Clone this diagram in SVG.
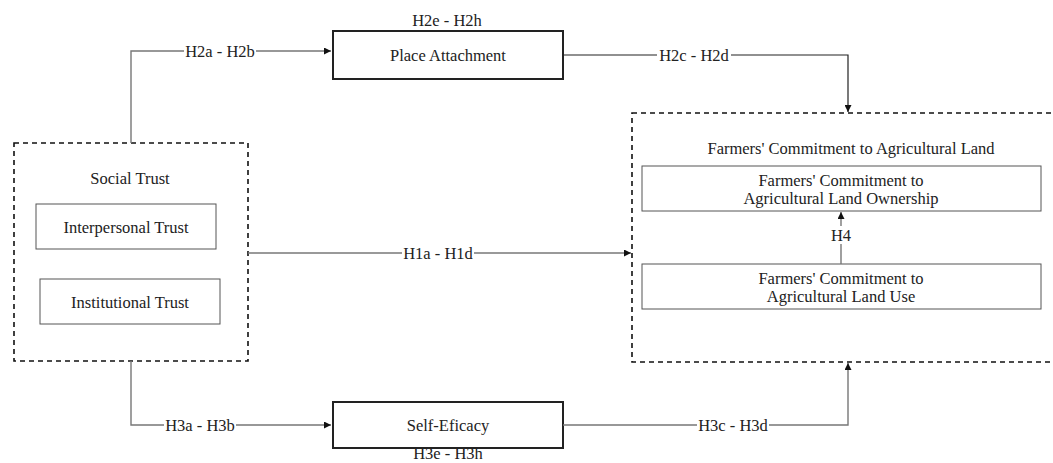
<svg xmlns="http://www.w3.org/2000/svg" width="1053" height="463" viewBox="0 0 1053 463">
<defs>
<style>
text{font-family:'Liberation Serif','Times New Roman','DejaVu Serif',serif;font-size:16.5px;fill:#222;text-anchor:middle;dominant-baseline:central}
.dash{fill:none;stroke:#111;stroke-width:1.6;stroke-dasharray:5 4}
.main{fill:#fff;stroke:#222;stroke-width:2}
.inner{fill:#fff;stroke:#555;stroke-width:1}
.c{fill:none;stroke:#777;stroke-width:1.4}
.cb{fill:none;stroke:#222;stroke-width:1.2}
.bg{fill:#fff}
</style>
<marker id="ah" viewBox="0 0 10 10" refX="10" refY="5" markerWidth="7" markerHeight="7" orient="auto" markerUnits="userSpaceOnUse">
<path d="M0,0 L10,5 L0,10 z" fill="#111"/>
</marker>
</defs>
<rect width="1053" height="463" fill="#fff"/>
<g font-family="Liberation Serif, Times New Roman, serif">
<g id="social-trust">
<rect class="dash" x="14" y="143" width="234" height="218"/>
<text x="130" y="178">Social Trust</text>
</g>
<g id="interpersonal-trust">
<rect class="inner" x="36" y="204" width="180" height="45"/>
<text x="126" y="227">Interpersonal Trust</text>
</g>
<g id="institutional-trust">
<rect class="inner" x="40" y="279" width="180" height="45"/>
<text x="130" y="302">Institutional Trust</text>
</g>

<g id="place-attachment">
<rect class="main" x="333" y="31" width="230" height="48"/>
<text x="448" y="55">Place Attachment</text>
<text x="447" y="20">H2e - H2h</text>
</g>

<g id="self-efficacy">
<rect class="main" x="333" y="402" width="230" height="46"/>
<text x="448" y="425">Self-Eficacy</text>
<text x="448" y="453">H3e - H3h</text>
</g>

<g id="commitment">
<rect class="dash" x="632" y="113" width="440" height="249"/>
<text x="851" y="148">Farmers' Commitment to Agricultural Land</text>
</g>
<g id="ownership">
<rect class="inner" x="642" y="166" width="399" height="45"/>
<text x="841" y="180">Farmers' Commitment to</text>
<text x="841" y="198">Agricultural Land Ownership</text>
</g>
<g id="land-use">
<rect class="inner" x="642" y="264" width="399" height="45"/>
<text x="841" y="278">Farmers' Commitment to</text>
<text x="841" y="296">Agricultural Land Use</text>
</g>

<g id="connectors">
<path class="c" d="M131 143 V51 H331" marker-end="url(#ah)"/>
<rect class="bg" x="184" y="42" width="72" height="18"/>
<text x="220" y="51">H2a - H2b</text>

<path class="cb" d="M563 55 H848 V112" marker-end="url(#ah)"/>
<rect class="bg" x="657" y="46" width="74" height="18"/>
<text x="694" y="55">H2c - H2d</text>

<path class="c" d="M248 253 H631" marker-end="url(#ah)"/>
<rect class="bg" x="402" y="244" width="72" height="18"/>
<text x="438" y="253">H1a - H1d</text>

<path class="c" d="M131 361 V425 H331" marker-end="url(#ah)"/>
<rect class="bg" x="164" y="416" width="72" height="18"/>
<text x="200" y="425">H3a - H3b</text>

<path class="c" d="M563 425 H848 V363" marker-end="url(#ah)"/>
<rect class="bg" x="697" y="416" width="72" height="18"/>
<text x="733" y="425">H3c - H3d</text>

<path class="c" d="M841 264 V212" marker-end="url(#ah)"/>
<rect class="bg" x="830" y="226" width="22" height="18"/>
<text x="841" y="235">H4</text>
</g>
</g>
</svg>
